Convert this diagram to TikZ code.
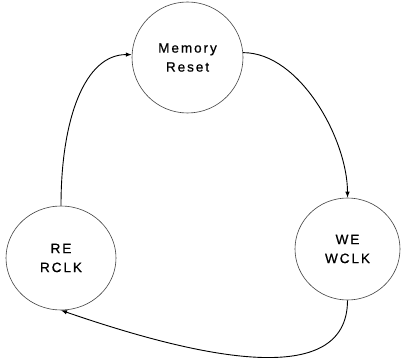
\documentclass[tikz,border=0pt]{standalone}
\usepackage{fontspec}
\setmainfont{Liberation Sans}[LetterSpace=14,FakeBold=0.7]
\usetikzlibrary{shapes.geometric,arrows.meta}
\begin{document}
\begin{tikzpicture}[x=1pt,y=1pt,
  state/.style={ellipse,draw=black!75,line width=0.6pt,inner sep=0pt,align=center,
    font=\fontsize{13.6}{19}\selectfont},
  trans/.style={line width=0.9pt,-{Latex[length=6pt,width=4.5pt]}}]
\useasboundingbox (0,0) rectangle (401,361);
\node[state,minimum width=111pt,minimum height=111pt] (mem) at (187.5,303.5) {Memory\\Reset};
\node[state,minimum width=110pt,minimum height=104pt] (re) at (61,103) {RE\\RCLK};
\node[state,minimum width=105pt,minimum height=102pt] (we) at (347.5,112) {WE\\WCLK};
\draw[trans] (mem.5) .. controls +(57,0) and +(0,58) .. (we.north);
\draw[trans] (we.south) .. controls +(0,-90) and +(139,-48) .. (re.south);
\draw[trans] (re.north) .. controls +(0,87) and +(-47,0) .. (mem.177);
\end{tikzpicture}
\end{document}
